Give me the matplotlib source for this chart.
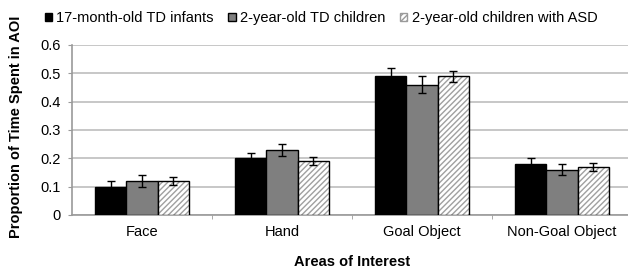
import numpy as np
import matplotlib
matplotlib.use("Agg")
import matplotlib.pyplot as plt
from matplotlib.patches import Patch

plt.rcParams['font.family'] = ['Liberation Sans', 'DejaVu Sans']

# data
areas = ['Face', 'Hand', 'Goal Object', 'Non-Goal Object']
groups = ['17-month-old TD infants', '2-year-old TD children', '2-year-old children with ASD']
infants = [0.10, 0.20, 0.49, 0.18]
infants_err = [0.02, 0.02, 0.03, 0.02]
td_kids = [0.12, 0.23, 0.46, 0.16]
td_kids_err = [0.02, 0.022, 0.03, 0.02]
asd_kids = [0.12, 0.19, 0.49, 0.17]
asd_kids_err = [0.015, 0.014, 0.019, 0.014]
yticks = [0, 0.1, 0.2, 0.3, 0.4, 0.5, 0.6]

fs = 10.5
fig = plt.figure(figsize=(6.28, 2.73), dpi=100)
ax = fig.add_axes([72/628, 1-215/273, 560/628, 170/273])

x = np.arange(len(areas))
w = 0.222
errkw = dict(ecolor='black', elinewidth=1.0, capsize=3, capthick=1.0)

ax.bar(x - w, infants, w, color='black', edgecolor='black', linewidth=1,
       yerr=infants_err, error_kw=errkw, zorder=3)
ax.bar(x, td_kids, w, color='#7f7f7f', edgecolor='black', linewidth=1,
       yerr=td_kids_err, error_kw=errkw, zorder=3)
# hatched bars: draw hatch in gray, then a black outline on top
ax.bar(x + w, asd_kids, w, color='white', edgecolor='#a0a0a0', linewidth=0,
       hatch='//////', zorder=3)
ax.bar(x + w, asd_kids, w, fill=False, edgecolor='black', linewidth=1,
       yerr=asd_kids_err, error_kw=errkw, zorder=4)

ax.set_xlim(-0.5, 3.5)
ax.set_ylim(0, 0.6)
ax.set_yticks(yticks)
ax.set_yticklabels(['0' if v == 0 else '%.1f' % v for v in yticks], fontsize=fs)
ax.yaxis.grid(True, color='#bdbdbd', linewidth=1.2, zorder=0)
ax.set_axisbelow(True)

ax.set_xticks(x)
ax.set_xticklabels(areas, fontsize=fs)
ax.tick_params(axis='x', length=0, pad=7)
ax.set_xticks(np.arange(0.5, 3.5, 1), minor=True)
ax.tick_params(axis='x', which='minor', length=3, color='#9a9a9a')
ax.tick_params(axis='y', length=3, color='#9a9a9a', pad=5)

for s in ['top', 'right']:
    ax.spines[s].set_visible(False)
for s in ['left', 'bottom']:
    ax.spines[s].set_color('#9a9a9a')
    ax.spines[s].set_linewidth(1.2)

ax.set_xlabel('Areas of Interest', fontsize=fs, fontweight='bold', labelpad=12)
ax.set_ylabel('Proportion of Time Spent in AOI', fontsize=fs, fontweight='bold')
ax.yaxis.set_label_coords(-0.088, 0.52)

# legend along the top
handles = [Patch(facecolor='black', edgecolor='black'),
           Patch(facecolor='#7f7f7f', edgecolor='black'),
           Patch(facecolor='white', edgecolor='#9a9a9a', hatch='//////')]
fig.legend(handles, groups, loc='center left', bbox_to_anchor=(0.05, 1-18/273),
           ncol=3, frameon=False, fontsize=fs, handlelength=0.5, handleheight=0.5,
           handletextpad=0.3, columnspacing=1.0)

fig.savefig('out.png', dpi=100)
